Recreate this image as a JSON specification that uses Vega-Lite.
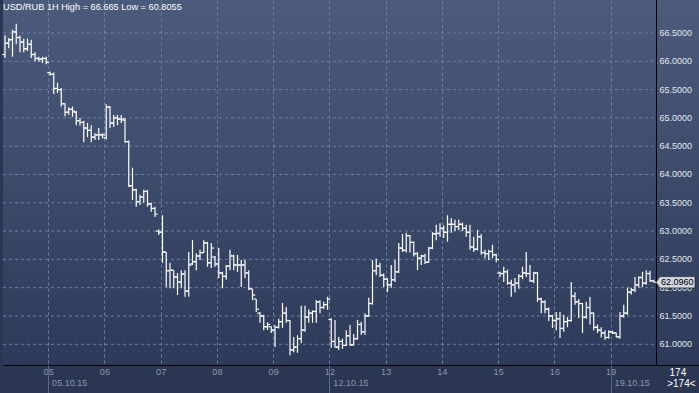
{
  "$schema": "https://vega.github.io/schema/vega-lite/v6.json",
  "width": 696,
  "height": 365,
  "autosize": "none",
  "padding": {"left": 3, "top": 0, "right": 0, "bottom": 28},
  "background": "#2b3653",
  "title": {"text": "USD/RUB 1H High = 66.665 Low = 60.8055", "anchor": "start", "frame": "group", "orient": "top", "offset": -12.5, "dx": 0, "color": "#ffffff", "font": "Liberation Sans", "fontSize": 9.2, "fontWeight": "normal"},
  "config": {
    "view": {"stroke": null, "fill": {"gradient": "linear", "x1": 0, "y1": 0, "x2": 0, "y2": 1, "stops": [{"offset": 0, "color": "#4c5b7c"}, {"offset": 1, "color": "#2d3a59"}]}},
    "axis": {"labelFont": "Liberation Sans", "labelFontSize": 9, "title": null, "labelOverlap": false, "labelFlush": false}
  },
  "datasets": {
    "bars": [
{"t":0,"o":66.12,"h":66.46,"l":66.06,"c":66.32},
{"t":1,"o":66.32,"h":66.41,"l":66.23,"c":66.38},
{"t":2,"o":66.38,"h":66.56,"l":66.08,"c":66.52},
{"t":3,"o":66.52,"h":66.665,"l":66.30,"c":66.42},
{"t":4,"o":66.42,"h":66.45,"l":66.16,"c":66.34},
{"t":5,"o":66.34,"h":66.40,"l":66.16,"c":66.22},
{"t":6,"o":66.22,"h":66.40,"l":66.18,"c":66.30},
{"t":7,"o":66.30,"h":66.38,"l":66.06,"c":66.12},
{"t":8,"o":66.12,"h":66.16,"l":66.00,"c":66.05},
{"t":9,"o":66.05,"h":66.08,"l":65.99,"c":66.04},
{"t":10,"o":66.04,"h":66.08,"l":65.97,"c":66.05},
{"t":11,"o":66.05,"h":66.08,"l":65.95,"c":65.98},
{"t":12,"o":65.80,"h":65.82,"l":65.75,"c":65.77},
{"t":13,"o":65.77,"h":65.80,"l":65.42,"c":65.52},
{"t":14,"o":65.52,"h":65.62,"l":65.44,"c":65.50},
{"t":15,"o":65.50,"h":65.53,"l":65.20,"c":65.25},
{"t":16,"o":65.25,"h":65.26,"l":65.03,"c":65.10},
{"t":17,"o":65.10,"h":65.19,"l":65.05,"c":65.15},
{"t":18,"o":65.15,"h":65.20,"l":65.02,"c":65.12},
{"t":19,"o":65.10,"h":65.12,"l":64.87,"c":64.95},
{"t":20,"o":64.95,"h":65.00,"l":64.86,"c":64.92},
{"t":21,"o":64.92,"h":64.95,"l":64.57,"c":64.82},
{"t":22,"o":64.82,"h":64.91,"l":64.66,"c":64.78},
{"t":23,"o":64.78,"h":64.87,"l":64.57,"c":64.66},
{"t":24,"o":64.66,"h":64.73,"l":64.61,"c":64.70},
{"t":25,"o":64.70,"h":64.82,"l":64.61,"c":64.70},
{"t":26,"o":64.70,"h":64.73,"l":64.64,"c":64.70},
{"t":27,"o":64.65,"h":65.24,"l":64.62,"c":65.19},
{"t":28,"o":65.19,"h":65.21,"l":64.82,"c":64.91},
{"t":29,"o":64.91,"h":65.05,"l":64.84,"c":65.00},
{"t":30,"o":65.00,"h":65.05,"l":64.87,"c":64.98},
{"t":31,"o":64.98,"h":65.05,"l":64.91,"c":64.98},
{"t":32,"o":64.96,"h":65.00,"l":64.56,"c":64.58},
{"t":33,"o":64.58,"h":64.60,"l":63.78,"c":63.80},
{"t":34,"o":63.80,"h":64.12,"l":63.55,"c":63.73},
{"t":35,"o":63.73,"h":63.75,"l":63.43,"c":63.52},
{"t":36,"o":63.52,"h":63.64,"l":63.46,"c":63.60},
{"t":37,"o":63.60,"h":63.73,"l":63.50,"c":63.70},
{"t":38,"o":63.70,"h":63.73,"l":63.43,"c":63.48},
{"t":39,"o":63.48,"h":63.50,"l":63.34,"c":63.40},
{"t":40,"o":63.40,"h":63.43,"l":63.25,"c":63.30},
{"t":41,"o":63.00,"h":63.03,"l":62.93,"c":62.98},
{"t":42,"o":62.98,"h":63.28,"l":62.44,"c":62.63},
{"t":43,"o":62.63,"h":62.63,"l":62.01,"c":62.30},
{"t":44,"o":62.30,"h":62.44,"l":61.99,"c":62.31},
{"t":45,"o":62.31,"h":62.31,"l":61.99,"c":62.19},
{"t":46,"o":62.19,"h":62.26,"l":61.87,"c":62.10},
{"t":47,"o":62.10,"h":62.31,"l":61.99,"c":62.24},
{"t":48,"o":62.24,"h":62.31,"l":61.84,"c":61.94},
{"t":49,"o":61.94,"h":62.63,"l":61.84,"c":62.40},
{"t":50,"o":62.42,"h":62.84,"l":62.40,"c":62.46},
{"t":51,"o":62.46,"h":62.61,"l":62.31,"c":62.56},
{"t":52,"o":62.56,"h":62.67,"l":62.49,"c":62.62},
{"t":53,"o":62.62,"h":62.84,"l":62.61,"c":62.79},
{"t":54,"o":62.79,"h":62.81,"l":62.37,"c":62.44},
{"t":55,"o":62.44,"h":62.79,"l":62.35,"c":62.70},
{"t":56,"o":62.54,"h":62.56,"l":62.37,"c":62.42},
{"t":57,"o":62.42,"h":62.70,"l":62.17,"c":62.26},
{"t":58,"o":62.26,"h":62.28,"l":61.99,"c":62.20},
{"t":59,"o":62.20,"h":62.40,"l":62.14,"c":62.38},
{"t":60,"o":62.38,"h":62.67,"l":62.31,"c":62.56},
{"t":61,"o":62.56,"h":62.58,"l":62.31,"c":62.40},
{"t":62,"o":62.40,"h":62.58,"l":62.28,"c":62.40},
{"t":63,"o":62.40,"h":62.49,"l":62.01,"c":62.40},
{"t":64,"o":62.40,"h":62.49,"l":62.17,"c":62.26},
{"t":65,"o":62.26,"h":62.31,"l":61.96,"c":61.98},
{"t":66,"o":61.98,"h":61.98,"l":61.78,"c":61.87},
{"t":67,"o":61.80,"h":61.80,"l":61.57,"c":61.62},
{"t":68,"o":61.55,"h":61.57,"l":61.38,"c":61.50},
{"t":69,"o":61.50,"h":61.52,"l":61.25,"c":61.31},
{"t":70,"o":61.31,"h":61.39,"l":61.25,"c":61.35},
{"t":71,"o":61.31,"h":61.32,"l":61.20,"c":61.25},
{"t":72,"o":61.25,"h":61.34,"l":60.95,"c":61.30},
{"t":73,"o":61.30,"h":61.45,"l":61.28,"c":61.40},
{"t":74,"o":61.40,"h":61.73,"l":61.29,"c":61.55},
{"t":75,"o":61.55,"h":61.66,"l":61.38,"c":61.42},
{"t":76,"o":61.42,"h":61.43,"l":60.8055,"c":60.90},
{"t":77,"o":60.90,"h":61.13,"l":60.86,"c":60.95},
{"t":78,"o":60.95,"h":61.16,"l":60.85,"c":61.10},
{"t":79,"o":61.10,"h":61.68,"l":61.02,"c":61.25},
{"t":80,"o":61.25,"h":61.68,"l":61.22,"c":61.48},
{"t":81,"o":61.48,"h":61.62,"l":61.38,"c":61.55},
{"t":82,"o":61.55,"h":61.60,"l":61.38,"c":61.58},
{"t":83,"o":61.58,"h":61.78,"l":61.38,"c":61.75},
{"t":84,"o":61.75,"h":61.78,"l":61.55,"c":61.65},
{"t":85,"o":61.65,"h":61.75,"l":61.62,"c":61.70},
{"t":86,"o":61.70,"h":61.84,"l":61.61,"c":61.80},
{"t":87,"o":61.44,"h":61.46,"l":60.94,"c":61.05},
{"t":88,"o":61.05,"h":61.43,"l":60.94,"c":60.95},
{"t":89,"o":60.95,"h":61.13,"l":60.90,"c":61.05},
{"t":90,"o":61.05,"h":61.10,"l":60.92,"c":60.98},
{"t":91,"o":60.98,"h":61.25,"l":60.97,"c":61.15},
{"t":92,"o":61.15,"h":61.34,"l":60.97,"c":60.99},
{"t":93,"o":60.99,"h":61.18,"l":60.98,"c":61.10},
{"t":94,"o":61.10,"h":61.43,"l":61.08,"c":61.35},
{"t":95,"o":61.35,"h":61.40,"l":61.17,"c":61.22},
{"t":96,"o":61.22,"h":61.55,"l":61.17,"c":61.50},
{"t":97,"o":61.50,"h":61.82,"l":61.48,"c":61.72},
{"t":98,"o":61.72,"h":62.49,"l":61.70,"c":62.30},
{"t":99,"o":62.30,"h":62.51,"l":62.22,"c":62.38},
{"t":100,"o":62.38,"h":62.44,"l":62.19,"c":62.22},
{"t":101,"o":62.22,"h":62.25,"l":62.01,"c":62.15},
{"t":102,"o":62.15,"h":62.17,"l":61.92,"c":62.05},
{"t":103,"o":62.05,"h":62.40,"l":62.00,"c":62.14},
{"t":104,"o":62.14,"h":62.49,"l":62.10,"c":62.28},
{"t":105,"o":62.28,"h":62.79,"l":62.26,"c":62.70},
{"t":106,"o":62.70,"h":62.95,"l":62.63,"c":62.66},
{"t":107,"o":62.66,"h":62.97,"l":62.62,"c":62.92},
{"t":108,"o":62.92,"h":62.93,"l":62.62,"c":62.80},
{"t":109,"o":62.80,"h":62.82,"l":62.55,"c":62.60},
{"t":110,"o":62.60,"h":62.63,"l":62.31,"c":62.52},
{"t":111,"o":62.52,"h":62.58,"l":62.40,"c":62.56},
{"t":112,"o":62.56,"h":62.60,"l":62.42,"c":62.45},
{"t":113,"o":62.45,"h":62.72,"l":62.44,"c":62.70},
{"t":114,"o":62.70,"h":62.98,"l":62.68,"c":62.95},
{"t":115,"o":62.95,"h":63.11,"l":62.84,"c":62.96},
{"t":116,"o":62.96,"h":63.14,"l":62.90,"c":63.05},
{"t":117,"o":63.05,"h":63.10,"l":62.88,"c":62.98},
{"t":118,"o":62.98,"h":63.28,"l":62.81,"c":63.12},
{"t":119,"o":63.12,"h":63.23,"l":62.97,"c":63.12},
{"t":120,"o":63.12,"h":63.20,"l":63.00,"c":63.08},
{"t":121,"o":63.08,"h":63.20,"l":63.02,"c":63.12},
{"t":122,"o":63.12,"h":63.15,"l":63.00,"c":63.05},
{"t":123,"o":63.05,"h":63.11,"l":62.90,"c":62.98},
{"t":124,"o":62.98,"h":63.11,"l":62.67,"c":62.72},
{"t":125,"o":62.72,"h":62.90,"l":62.63,"c":62.68},
{"t":126,"o":62.68,"h":63.02,"l":62.66,"c":62.90},
{"t":127,"o":62.90,"h":62.95,"l":62.58,"c":62.62},
{"t":128,"o":62.62,"h":62.67,"l":62.52,"c":62.60},
{"t":129,"o":62.60,"h":62.67,"l":62.49,"c":62.64},
{"t":130,"o":62.64,"h":62.76,"l":62.52,"c":62.58},
{"t":131,"o":62.58,"h":62.60,"l":62.45,"c":62.50},
{"t":132,"o":62.26,"h":62.28,"l":62.19,"c":62.25},
{"t":133,"o":62.25,"h":62.37,"l":62.10,"c":62.28},
{"t":134,"o":62.28,"h":62.32,"l":62.05,"c":62.08},
{"t":135,"o":62.08,"h":62.14,"l":61.84,"c":62.05},
{"t":136,"o":62.05,"h":62.17,"l":61.92,"c":62.08},
{"t":137,"o":62.08,"h":62.24,"l":61.98,"c":62.20},
{"t":138,"o":62.20,"h":62.37,"l":62.15,"c":62.26},
{"t":139,"o":62.26,"h":62.63,"l":62.19,"c":62.25},
{"t":140,"o":62.25,"h":62.40,"l":62.10,"c":62.12},
{"t":141,"o":62.12,"h":62.28,"l":62.08,"c":62.26},
{"t":142,"o":62.26,"h":62.28,"l":61.75,"c":61.80},
{"t":143,"o":61.80,"h":61.82,"l":61.55,"c":61.75},
{"t":144,"o":61.75,"h":61.78,"l":61.55,"c":61.62},
{"t":145,"o":61.62,"h":61.65,"l":61.41,"c":61.50},
{"t":146,"o":61.50,"h":61.52,"l":61.29,"c":61.42},
{"t":147,"o":61.42,"h":61.57,"l":61.25,"c":61.45},
{"t":148,"o":61.45,"h":61.57,"l":61.11,"c":61.28},
{"t":149,"o":61.28,"h":61.52,"l":61.22,"c":61.40},
{"t":150,"o":61.40,"h":61.48,"l":61.30,"c":61.42},
{"t":151,"o":61.42,"h":62.10,"l":61.40,"c":61.85},
{"t":152,"o":61.85,"h":61.92,"l":61.70,"c":61.75},
{"t":153,"o":61.75,"h":61.80,"l":61.46,"c":61.72},
{"t":154,"o":61.72,"h":61.73,"l":61.20,"c":61.48},
{"t":155,"o":61.48,"h":61.75,"l":61.45,"c":61.65},
{"t":156,"o":61.65,"h":61.84,"l":61.35,"c":61.55},
{"t":157,"o":61.55,"h":61.56,"l":61.25,"c":61.30},
{"t":158,"o":61.30,"h":61.35,"l":61.20,"c":61.25},
{"t":159,"o":61.25,"h":61.30,"l":61.12,"c":61.20},
{"t":160,"o":61.20,"h":61.25,"l":61.08,"c":61.12},
{"t":161,"o":61.12,"h":61.25,"l":61.10,"c":61.22},
{"t":162,"o":61.22,"h":61.24,"l":61.18,"c":61.20},
{"t":163,"o":61.20,"h":61.21,"l":61.12,"c":61.13},
{"t":164,"o":61.13,"h":61.57,"l":61.10,"c":61.50},
{"t":165,"o":61.50,"h":61.70,"l":61.47,"c":61.55},
{"t":166,"o":61.55,"h":62.00,"l":61.52,"c":61.92},
{"t":167,"o":61.92,"h":62.00,"l":61.88,"c":61.96},
{"t":168,"o":61.96,"h":62.19,"l":61.92,"c":62.05},
{"t":169,"o":62.05,"h":62.20,"l":62.00,"c":62.18},
{"t":170,"o":62.18,"h":62.28,"l":62.01,"c":62.08},
{"t":171,"o":62.08,"h":62.31,"l":62.05,"c":62.25},
{"t":172,"o":62.25,"h":62.30,"l":62.10,"c":62.12},
{"t":173,"o":62.12,"h":62.14,"l":62.09,"c":62.096}
    ],
    "grid": [{"g":61},{"g":61.5},{"g":62},{"g":62.5},{"g":63},{"g":63.5},{"g":64},{"g":64.5},{"g":65},{"g":65.5},{"g":66},{"g":66.5}],
    "last": [{"t":173,"v":62.096}]
  },
  "resolve": {"axis": {"x": "independent"}},
  "layer": [
    {
      "data": {"name": "grid"},
      "mark": {"type": "rule", "color": "#6d80a6", "strokeDash": [3, 3], "strokeWidth": 1},
      "encoding": {
        "x": {"datum": -0.533, "type": "quantitative", "scale": {"domain": [-0.533, 185.067], "nice": false, "zero": false}, "axis": null},
        "x2": {"datum": 173.73},
        "y": {"field": "g", "type": "quantitative", "scale": {"domain": [60.634, 67.083], "nice": false, "zero": false}, "axis": null}
      }
    },
    {
      "data": {"name": "grid"},
      "mark": {"type": "text", "align": "left", "baseline": "middle", "dx": 3, "font": "Liberation Sans", "fontSize": 9, "color": "#e2e6ee"},
      "encoding": {
        "x": {"datum": 173.73, "type": "quantitative", "scale": {"domain": [-0.533, 185.067], "nice": false, "zero": false}, "axis": null},
        "y": {"field": "g", "type": "quantitative", "scale": {"domain": [60.634, 67.083], "nice": false, "zero": false}, "axis": null},
        "text": {"field": "g", "type": "quantitative", "format": ".4f"}
      }
    },
    {
      "data": {"name": "bars"},
      "mark": {"type": "rule", "color": "#ffffff", "strokeWidth": 1.2},
      "encoding": {
        "x": {"field": "t", "type": "quantitative", "scale": {"domain": [-0.533, 185.067], "nice": false, "zero": false},
          "axis": {"orient": "bottom", "values": [11.5, 26.5, 41.5, 56.5, 71.5, 86.5, 101.5, 116.5, 131.5, 146.5, 161.5, 179.3],
            "labelExpr": "datum.value > 170 ? '174' : ['05','06','07','08','09','12','13','14','15','16','19'][round((datum.value - 11.5) / 15)]",
            "grid": true, "gridDash": [3, 3], "gridColor": {"condition": {"test": "datum.value > 170", "value": "transparent"}, "value": "#6d80a6"},
            "ticks": false, "domain": true, "domainColor": "#000000", "domainWidth": 1,
            "labelColor": {"condition": {"test": "datum.value > 170", "value": "#ffffff"}, "value": "#8d97aa"},
            "labelFontSize": {"condition": {"test": "datum.value > 170", "value": 10}, "value": 9},
            "labelPadding": 2}},
        "y": {"field": "l", "type": "quantitative", "scale": {"domain": [60.634, 67.083], "nice": false, "zero": false}, "axis": null},
        "y2": {"field": "h"}
      }
    },
    {
      "data": {"name": "bars"},
      "mark": {"type": "tick", "orient": "horizontal", "size": 2.5, "thickness": 1.2, "xOffset": -1.5, "color": "#ffffff", "opacity": 1},
      "encoding": {
        "x": {"field": "t", "type": "quantitative", "scale": {"domain": [-0.533, 185.067], "nice": false, "zero": false},
          "axis": {"orient": "bottom", "values": [11.5, 86.5, 161.5, 179.3],
            "labelExpr": "datum.value > 170 ? '>174<' : datum.value > 150 ? '19.10.15' : datum.value > 50 ? '12.10.15' : '05.10.15'",
            "grid": false, "domain": false, "ticks": true, "tickSize": 28,
            "tickColor": {"condition": {"test": "datum.value > 170", "value": "transparent"}, "value": "#56678b"},
            "labelAlign": {"condition": {"test": "datum.value > 170", "value": "center"}, "value": "left"},
            "labelOffset": 3.5,
            "labelColor": {"condition": {"test": "datum.value > 170", "value": "#ffffff"}, "value": "#8d97aa"},
            "labelFontSize": {"condition": {"test": "datum.value > 170", "value": 10}, "value": 9},
            "labelPadding": -14.5}},
        "y": {"field": "o", "type": "quantitative", "scale": {"domain": [60.634, 67.083], "nice": false, "zero": false}, "axis": null}
      }
    },
    {
      "data": {"name": "bars"},
      "mark": {"type": "tick", "orient": "horizontal", "size": 2.5, "thickness": 1.2, "xOffset": 1.5, "color": "#ffffff", "opacity": 1},
      "encoding": {
        "x": {"field": "t", "type": "quantitative", "scale": {"domain": [-0.533, 185.067], "nice": false, "zero": false}, "axis": null},
        "y": {"field": "c", "type": "quantitative", "scale": {"domain": [60.634, 67.083], "nice": false, "zero": false}, "axis": null}
      }
    },
    {
      "data": {"name": "last"},
      "mark": {"type": "rule", "color": "#000000", "strokeWidth": 1},
      "encoding": {
        "x": {"datum": 173.73, "type": "quantitative", "scale": {"domain": [-0.533, 185.067], "nice": false, "zero": false}, "axis": null}
      }
    },
    {
      "data": {"name": "last"},
      "mark": {"type": "point", "shape": "M-1,0L-0.8,-0.29L1,-0.29L1,0.29L-0.8,0.29Z", "filled": true, "size": 1521, "color": "#d2d6de", "stroke": "#1a1a1a", "strokeWidth": 0.6, "opacity": 1, "xOffset": 21.75},
      "encoding": {
        "x": {"field": "t", "type": "quantitative", "scale": {"domain": [-0.533, 185.067], "nice": false, "zero": false}, "axis": null},
        "y": {"field": "v", "type": "quantitative", "scale": {"domain": [60.634, 67.083], "nice": false, "zero": false}, "axis": null}
      }
    },
    {
      "data": {"name": "last"},
      "mark": {"type": "text", "align": "center", "baseline": "middle", "dx": 23.5, "font": "Liberation Sans", "fontSize": 9, "color": "#000000"},
      "encoding": {
        "x": {"field": "t", "type": "quantitative", "scale": {"domain": [-0.533, 185.067], "nice": false, "zero": false}, "axis": null},
        "y": {"field": "v", "type": "quantitative", "scale": {"domain": [60.634, 67.083], "nice": false, "zero": false}, "axis": null},
        "text": {"field": "v", "type": "quantitative", "format": ".4f"}
      }
    }
  ]
}
